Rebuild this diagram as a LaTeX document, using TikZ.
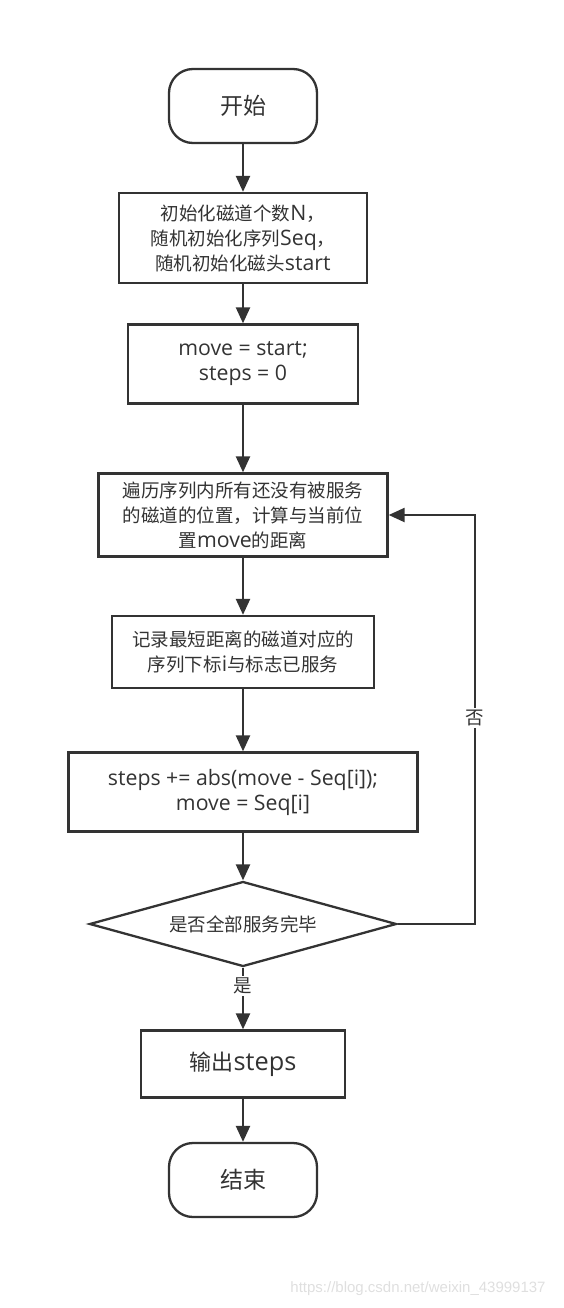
\documentclass[tikz,border=0pt]{standalone}
\usepackage{fontspec}
\setmainfont{Open Sans}[Scale=1.15]
\newfontfamily\cjk{Noto Sans CJK SC}
\newfontfamily\wmfont{Liberation Sans}
\usetikzlibrary{shapes.geometric,arrows.meta}
\definecolor{ink}{HTML}{333333}
\newcommand{\zh}[1]{{\cjk #1}}

\begin{document}
\begin{tikzpicture}[x=1pt,y=-1pt,
	line width=2.3pt, color=ink,
	font=\fontsize{18.5}{25}\selectfont,
	>={Triangle[length=16pt,width=14pt]},
	box/.style={draw, rectangle, inner sep=0pt, align=center},
	term/.style={draw, rectangle, rounded corners=24pt, inner sep=0pt, minimum width=148pt, minimum height=74pt, font=\fontsize{23}{25}\selectfont},
	decide/.style={draw, diamond, aspect=3.6, inner sep=0pt, minimum width=307pt, minimum height=85pt},
	tag/.style={fill=white, inner sep=2pt}]
			\useasboundingbox (0,0) rectangle (564,1308);
			\node	(start) at (243,106) [term] {\zh{开始}};
			\node	(init) at (243,238) [box, minimum width=248pt, minimum height=90pt] {\zh{初始化磁道个数}N\zh{，}\\\zh{随机初始化序列}Seq\zh{，}\\\zh{随机初始化磁头}start};
			\node	(setup) at (243,364) [box, minimum width=230pt, minimum height=79pt] {move = start;\\steps = 0};
			\node	(scan) at (243,515) [box, minimum width=289pt, minimum height=83pt] {\zh{遍历序列内所有还没有被服务}\\\zh{的磁道的位置，计算与当前位}\\\zh{置}move\zh{的距离}};
			\node	(mark) at (243,652) [box, minimum width=262pt, minimum height=72pt] {\zh{记录最短距离的磁道对应的}\\\zh{序列下标}i\zh{与标志已服务}};
			\node	(update) at (243,792) [box, minimum width=349pt, minimum height=79pt] {steps += abs(move - Seq[i]);\\move = Seq[i]};
			\node	(check) at (243,924) [decide] {\zh{是否全部服务完毕}};
			\node	(output) at (243,1064) [box, minimum width=204pt, minimum height=67pt, font=\fontsize{22}{25}\selectfont] {\zh{输出}steps};
			\node	(stop) at (243,1180) [term] {\zh{结束}};
			\node	(watermark) at (418,1289) [text=gray!25, font=\wmfont\fontsize{15}{17}\selectfont] {https://blog.csdn.net/weixin\_43999137};
			\coordinate (loop) at (475,924);
			\draw 
			(start) edge[->] (init) 
			(init) edge[->] (setup)
			(setup) edge[->] (scan)
			(scan) edge[->] (mark)
			(mark) edge[->] (update)
			(update) edge[->] (check)
			(check) edge[->] node[pos=0.3, tag] {\zh{是}} (output)
			(output) edge[->] (stop)
			;
			\draw[->] (check.east) -- (loop) |- (scan.east);
			\node	(no) at (475,718) [tag] {\zh{否}};
		\end{tikzpicture}
\end{document}
